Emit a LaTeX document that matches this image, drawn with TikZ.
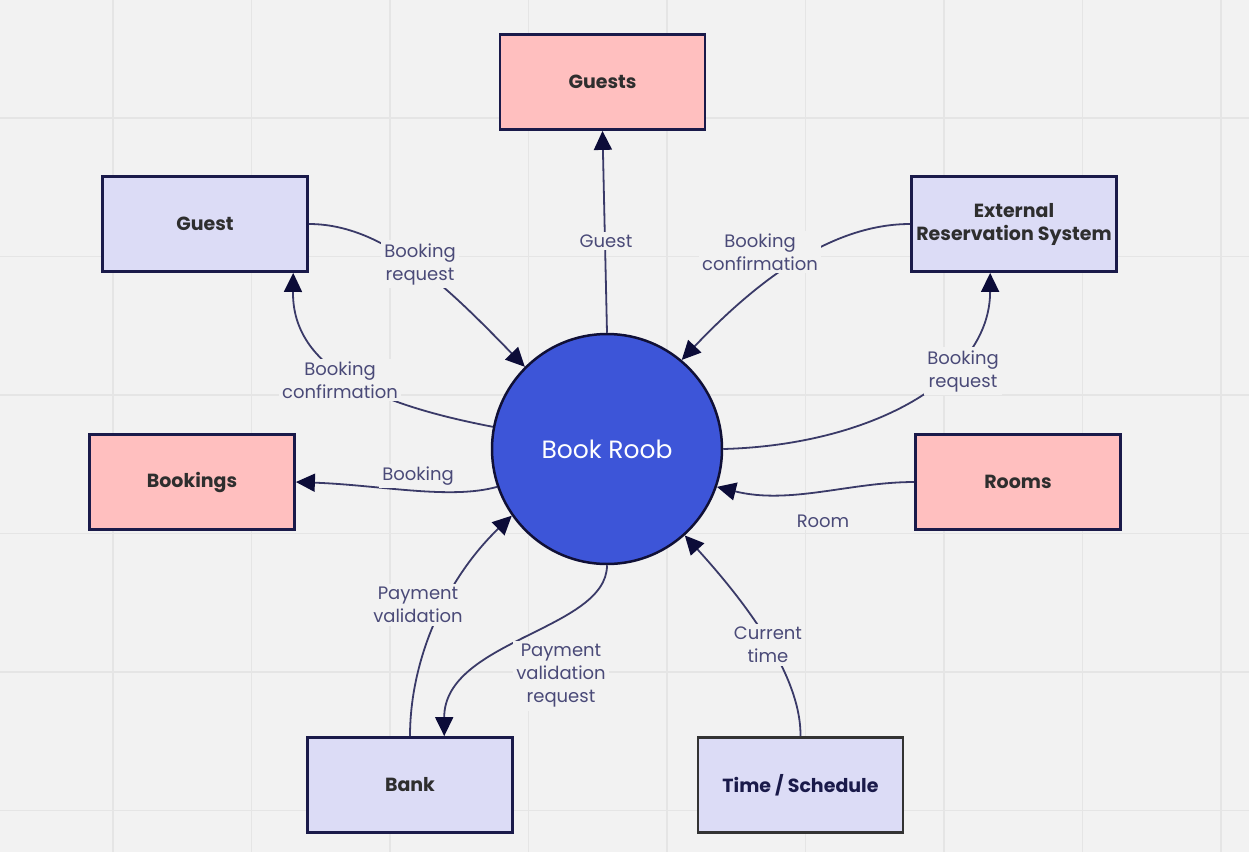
\documentclass[tikz,border=0pt]{standalone}
\usepackage{fontspec}
\setmainfont{Poppins}
\usetikzlibrary{arrows.meta}
\definecolor{bg}{HTML}{F2F2F2}
\definecolor{gridc}{HTML}{E5E5E5}
\definecolor{pinkf}{HTML}{FFBFBF}
\definecolor{lavf}{HTML}{DCDCF6}
\definecolor{navy}{HTML}{1A1A4A}
\definecolor{circf}{HTML}{3D55D8}
\definecolor{circd}{HTML}{101036}
\definecolor{linec}{HTML}{3A3A68}
\definecolor{tipc}{HTML}{0C0C38}
\definecolor{labc}{HTML}{4A4A78}
\definecolor{boxt}{HTML}{2E2E2E}
\definecolor{tsb}{HTML}{333333}
\begin{document}
\begin{tikzpicture}[x=1pt,y=-1pt,
  entity/.style={draw=navy,line width=2.8pt,minimum width=205pt,minimum height=95pt,
    inner sep=0pt,font=\fontsize{19}{23}\selectfont\bfseries,text=boxt,align=center},
  pinkbox/.style={entity,fill=pinkf},
  lavbox/.style={entity,fill=lavf},
  procnode/.style={circle,draw=circd,fill=circf,line width=2.5pt,minimum size=230pt,
    inner sep=0pt,text=white,font=\fontsize{25}{30}\selectfont},
  flow/.style={draw=linec,line width=1.8pt,
    -{Triangle[length=19pt,width=18pt,fill=tipc,color=tipc]}},
  flowlabel/.style={fill=bg,inner sep=3pt,text=labc,align=center,
    font=\fontsize{18}{23}\selectfont}
]
\useasboundingbox (0,0) rectangle (1249,852);
\fill[bg] (0,0) rectangle (1249,852);
\foreach \gx in {113,251.5,390,528.5,667,805.5,944,1082.5,1221}
  \draw[gridc,line width=1.3pt] (\gx,0) -- (\gx,852);
\foreach \gy in {118,256.5,395,533.5,672,810.5}
  \draw[gridc,line width=1.3pt] (0,\gy) -- (1249,\gy);

% nodes
\node[pinkbox] (guests) at (602.5,82) {Guests};
\node[lavbox] (guest) at (205,224) {Guest};
\node[lavbox] (ers) at (1014,224) {External\\Reservation System};
\node[pinkbox] (bookings) at (192,482) {Bookings};
\node[pinkbox] (rooms) at (1018,482) {Rooms};
\node[lavbox] (bank) at (410,785) {Bank};
\node[lavbox,draw=tsb,text=navy] (ts) at (800.5,785) {Time / Schedule};
\node[procnode] (book) at (607,449) {Book Roob};

% connectors
\draw[flow] (guest.east) .. controls (385,224) and (450,290) .. (book.135);
\draw[flow] (book.169) .. controls (380,405) and (292,370) .. (guest.-29.4);
\draw[flow] (book.90) -- (guests.south);
\draw[flow] (ers.west) .. controls (840,224) and (768,269) .. (book.50);
\draw[flow] (book.0) .. controls (870,445) and (990,380) .. (ers.-116.1);
\draw[flow] (book.199) .. controls (450,500) and (380,485) .. (bookings.east);
\draw[flow] (rooms.west) .. controls (850,482) and (790,505) .. (book.-19);
\draw[flow] (ts.north) .. controls (801,690) and (769,628) .. (book.-48);
\draw[flow] (bank.north) .. controls (410,660) and (445,580) .. (book.215);
\draw[flow] (book.-90) .. controls (607,630) and (444,640) .. (bank.55.2);

% labels
\node[flowlabel] (l1) at (420,264) {Booking\\request};
\node[flowlabel] (l2) at (340,380) {Booking\\confirmation};
\node[flowlabel] (l3) at (606,241) {Guest};
\node[flowlabel] (l4) at (760,252) {Booking\\confirmation};
\node[flowlabel] (l5) at (963,371) {Booking\\request};
\node[flowlabel] (l6) at (418,476) {Booking};
\node[flowlabel] (l7) at (823,521) {Room};
\node[flowlabel] (l8) at (768,645) {Current\\time};
\node[flowlabel] (l9) at (418,605) {Payment\\validation};
\node[flowlabel] (l10) at (561,676) {Payment\\validation\\request};
\end{tikzpicture}
\end{document}
